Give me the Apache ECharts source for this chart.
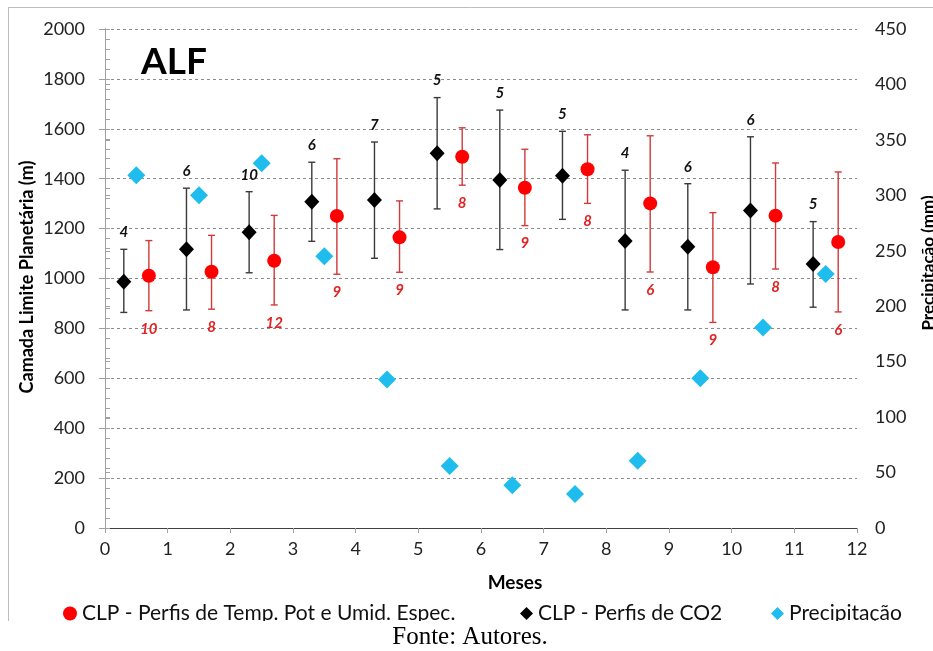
<!DOCTYPE html>
<html><head><meta charset="utf-8">
<script src="https://cdn.jsdelivr.net/npm/echarts@6/dist/echarts.min.js"></script>
<style>html,body{margin:0;padding:0;background:#fff}#c{width:933px;height:651px}</style>
</head><body><div id="c"></div>
<script>
// ---- data ----
var months = [0,1,2,3,4,5,6,7,8,9,10,11];
var xTicks = [0,1,2,3,4,5,6,7,8,9,10,11,12];
// CLP - Perfis de CO2 (black diamonds)
var co2Mean = [987,1117,1185,1308,1315,1502,1395,1412,1150,1127,1273,1058];
var co2Low  = [864,874,1023,1149,1081,1279,1116,1237,874,874,978,885];
var co2High = [1117,1362,1348,1466,1547,1725,1675,1590,1434,1380,1568,1228];
var co2N    = [4,6,10,6,7,5,5,5,4,6,6,5];
// CLP - Perfis de Temp. Pot e Umid. Espec. (red circles)
var tqMean = [1011,1027,1071,1251,1165,1488,1364,1438,1301,1045,1252,1146];
var tqLow  = [871,877,894,1017,1025,1374,1212,1301,1026,824,1038,866];
var tqHigh = [1152,1173,1253,1480,1311,1604,1518,1576,1572,1264,1463,1427];
var tqN    = [10,8,12,9,9,8,9,8,6,9,8,6];
// Precipitação (mm), right axis
var precip = [318,300,329,245,134,56,38.5,30.6,60.7,135,180.7,229];

var OFF_CO2 = 0.3, OFF_TQ = 0.7, OFF_P = 0.5;
var FONT = 'Lato, "Open Sans", sans-serif';

var chart = echarts.init(document.getElementById('c'), null, {renderer:'canvas'});

function errData(off, lo, hi, n){
  return months.map(function(m,i){ return [m+off, lo[i], hi[i], n[i]]; });
}
function errRender(color, labelColor, above){
  return function(params, api){
    var x = api.value(0), lo = api.value(1), hi = api.value(2), n = api.value(3);
    var pt = api.coord([x, hi]), pb = api.coord([x, lo]);
    var cw = 3.5;
    var ly = above ? pt[1]-17 : pb[1]+18;
    return {type:'group', children:[
      {type:'line', shape:{x1:pt[0],y1:pt[1],x2:pb[0],y2:pb[1]}, style:{stroke:color,lineWidth:1.4}},
      {type:'line', shape:{x1:pt[0]-cw,y1:pt[1],x2:pt[0]+cw,y2:pt[1]}, style:{stroke:color,lineWidth:1.4}},
      {type:'line', shape:{x1:pb[0]-cw,y1:pb[1],x2:pb[0]+cw,y2:pb[1]}, style:{stroke:color,lineWidth:1.4}},
      {type:'text', x:pt[0], y:ly, style:{text:String(n), fill:labelColor,
        font:'italic bold 15px '+FONT, align:'center', verticalAlign:'middle',
        textAlign:'center', textVerticalAlign:'middle'}}
    ]};
  };
}

var axisGray = '#a0a0a0';
var option = {
  animation:false,
  backgroundColor:'#fff',
  grid:{left:105, right:76, top:29, bottom:123, containLabel:false},
  xAxis:[{
    type:'value', min:0, max:12, interval:1,
    axisLine:{lineStyle:{color:axisGray,width:1}},
    axisTick:{show:true, length:5, lineStyle:{color:axisGray}},
    axisLabel:{color:'#222', fontSize:18, fontFamily:FONT, margin:12,
      formatter:function(v){ return xTicks.indexOf(v)>=0 ? String(v) : ''; }},
    splitLine:{show:false}
  },{
    type:'value', min:0, max:12, position:'top',
    axisLine:{show:true, lineStyle:{color:'#404040',width:1}},
    axisTick:{show:false}, axisLabel:{show:false}, splitLine:{show:false}
  }],
  yAxis:[{
    type:'value', min:0, max:2000, interval:200, position:'left',
    axisLine:{show:true, lineStyle:{color:axisGray}},
    axisTick:{show:true, length:6, lineStyle:{color:axisGray}},
    axisLabel:{color:'#222', fontSize:18, fontFamily:FONT, margin:20,
      formatter:function(v){ return String(v); }},
    splitLine:{show:true, lineStyle:{color:'#8c8c8c', type:[3,3], width:1}}
  },{
    type:'value', min:0, max:450, interval:50, position:'right',
    axisLine:{show:true, lineStyle:{color:axisGray}},
    axisTick:{show:true, length:5, lineStyle:{color:axisGray}},
    axisLabel:{color:'#222', fontSize:18, fontFamily:FONT, margin:18,
      formatter:function(v){ return String(v); }},
    splitLine:{show:false}
  },{
    type:'value', min:0, max:2000, interval:40, position:'left', offset:0,
    axisLine:{show:false},
    axisTick:{show:true, inside:true, length:5, lineStyle:{color:axisGray}},
    axisLabel:{show:false}, splitLine:{show:false}
  }],
  legend:[{
    data:[{name:'CLP - Perfis de Temp. Pot e Umid. Espec.', icon:'circle'}],
    left:58, top:598, itemWidth:14, itemHeight:14, itemGap:10,
    textStyle:{fontSize:21, fontFamily:FONT, color:'#111'}
  },{
    data:[{name:'CLP - Perfis de CO2', icon:'diamond'}],
    left:515, top:598, itemWidth:13, itemHeight:13,
    textStyle:{fontSize:21, fontFamily:FONT, color:'#111'}
  },{
    data:[{name:'Precipitação', icon:'diamond'}],
    left:766, top:598, itemWidth:13, itemHeight:13,
    textStyle:{fontSize:21, fontFamily:FONT, color:'#111'}
  }],
  graphic:[
    {type:'line', shape:{x1:8.5,y1:7,x2:8.5,y2:621}, style:{stroke:'#bdbdbd',lineWidth:1}, z:1},
    {type:'line', shape:{x1:8,y1:7.5,x2:933,y2:7.5}, style:{stroke:'#bdbdbd',lineWidth:1}, z:1},
    {type:'text', x:174, y:62, style:{text:'ALF', font:'bold 37px '+FONT, fill:'#000',
      align:'center', verticalAlign:'middle', textAlign:'center', textVerticalAlign:'middle'}, z:10},
    {type:'text', x:27, y:277, rotation:Math.PI/2, style:{text:'Camada Limite Planetária (m)',
      font:'bold 18px '+FONT, fill:'#000', align:'center', verticalAlign:'middle',
      textAlign:'center', textVerticalAlign:'middle'}, z:10},
    {type:'text', x:929, y:263, rotation:Math.PI/2, style:{text:'Precipitação (mm)',
      font:'bold 17px '+FONT, fill:'#000', align:'center', verticalAlign:'middle',
      textAlign:'center', textVerticalAlign:'middle'}, z:10},
    {type:'text', x:515, y:583, style:{text:'Meses', font:'bold 19px '+FONT, fill:'#000',
      align:'center', verticalAlign:'middle', textAlign:'center', textVerticalAlign:'middle'}, z:10},
    {type:'rect', shape:{x:0,y:621,width:933,height:30}, style:{fill:'#fff'}, z:50},
    {type:'text', x:470, y:637, style:{text:'Fonte: Autores.', font:'25px "Liberation Serif", "Times New Roman", serif',
      fill:'#000', align:'center', verticalAlign:'middle', textAlign:'center', textVerticalAlign:'middle'}, z:60}
  ],
  series:[
    {type:'custom', name:'errTQ', xAxisIndex:0, yAxisIndex:0, silent:true,
      renderItem:errRender('#d03a3a','#e02424',false),
      data:errData(OFF_TQ, tqLow, tqHigh, tqN), z:2, encode:{x:0,y:[1,2]}},
    {type:'custom', name:'errCO2', xAxisIndex:0, yAxisIndex:0, silent:true,
      renderItem:errRender('#3a3a3a','#111',true),
      data:errData(OFF_CO2, co2Low, co2High, co2N), z:2, encode:{x:0,y:[1,2]}},
    {type:'scatter', name:'CLP - Perfis de Temp. Pot e Umid. Espec.', xAxisIndex:0, yAxisIndex:0,
      symbol:'circle', symbolSize:14, itemStyle:{color:'#ff0000', opacity:1}, z:3,
      data:months.map(function(m,i){return [m+OFF_TQ, tqMean[i]];})},
    {type:'scatter', name:'CLP - Perfis de CO2', xAxisIndex:0, yAxisIndex:0,
      symbol:'diamond', symbolSize:[15,16], itemStyle:{color:'#000', opacity:1}, z:4,
      data:months.map(function(m,i){return [m+OFF_CO2, co2Mean[i]];})},
    {type:'scatter', name:'Precipitação', xAxisIndex:0, yAxisIndex:1,
      symbol:'diamond', symbolSize:[18,18], itemStyle:{color:'#1fbdee', opacity:1}, z:5,
      data:months.map(function(m,i){return [m+OFF_P, precip[i]];})}
  ]
};
chart.setOption(option);
</script></body></html>
